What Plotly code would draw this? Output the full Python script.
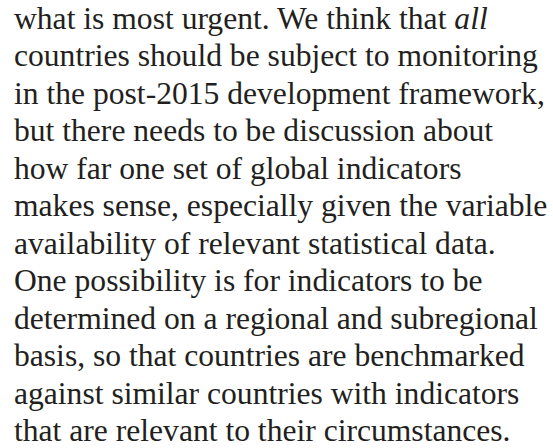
import plotly.graph_objects as go

lines = [
    "what is most urgent. We think that <i>all</i>",
    "countries should be subject to monitoring",
    "in the post-2015 development framework,",
    "but there needs to be discussion about",
    "how far one set of global indicators",
    "makes sense, especially given the variable",
    "availability of relevant statistical data.",
    "One possibility is for indicators to be",
    "determined on a regional and subregional",
    "basis, so that countries are benchmarked",
    "against similar countries with indicators",
    "that are relevant to their circumstances.",
]
line_index = list(range(len(lines)))

W, H = 553, 448
top_center = 18.0
spacing = 37.5

fig = go.Figure()
for i, t in zip(line_index, lines):
    fig.add_annotation(
        x=12, y=top_center + i * spacing, xref="x", yref="y",
        text=t, showarrow=False, xanchor="left", yanchor="middle",
        font=dict(family="Liberation Serif", size=31.6, color="#231f20"),
    )

fig.update_xaxes(range=[0, W], visible=False, fixedrange=True)
fig.update_yaxes(range=[H, 0], visible=False, fixedrange=True)
fig.update_layout(
    width=W, height=H, margin=dict(l=0, r=0, t=0, b=0),
    paper_bgcolor="white", plot_bgcolor="white", showlegend=False,
)
fig.write_html(
    "out.html",
    config={"displayModeBar": False},
    post_script="document.body.style.margin='0';document.body.style.overflow='hidden';",
)
